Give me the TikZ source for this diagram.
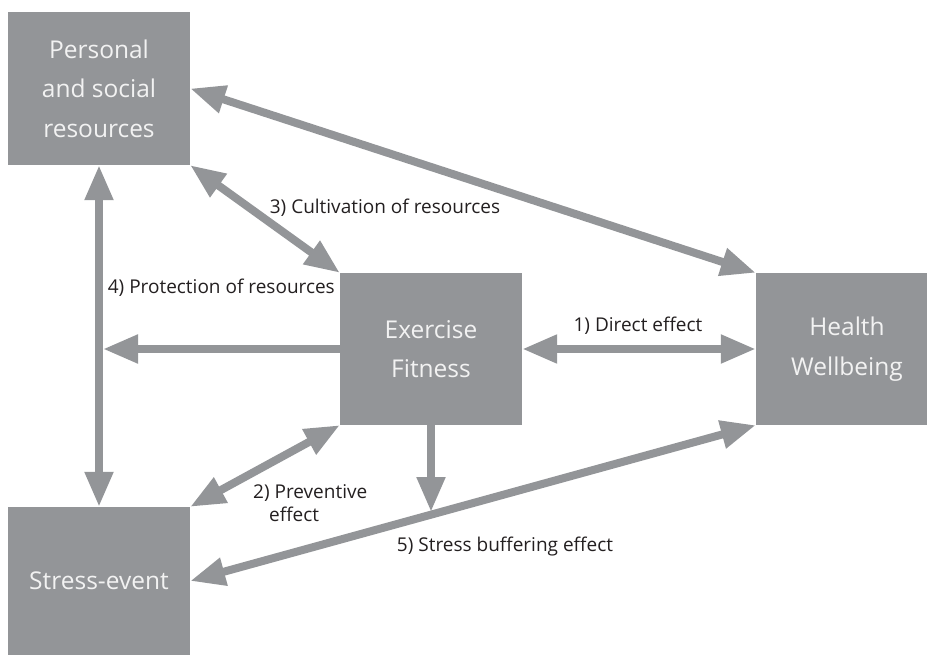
\documentclass[tikz,border=0pt]{standalone}
\usepackage{fontspec}
\setmainfont{Open Sans}
\usetikzlibrary{arrows.meta}
\definecolor{boxgray}{HTML}{939598}
\definecolor{boxtext}{HTML}{F2F2F2}
\definecolor{labeltext}{HTML}{231F20}
\tikzset{
  factor/.style={fill=boxgray, draw=none, text=boxtext, align=center,
    inner sep=0pt, font=\fontsize{24.5}{39.5}\selectfont},
  link/.style={draw=boxgray, line width=8pt,
    -{Triangle[length=35pt,width=27pt]}},
  biLink/.style={draw=boxgray, line width=8pt,
    {Triangle[length=35pt,width=27pt]}-{Triangle[length=35pt,width=27pt]}},
  lbl/.style={text=labeltext, font=\fontsize{19}{23}\selectfont, inner sep=0pt}
}
\begin{document}
\begin{tikzpicture}[x=1pt,y=-1pt]
\useasboundingbox (0,0) rectangle (927,655);
% boxes
\node[factor, minimum width=182pt, minimum height=153pt] (per) at (99,88.5)
  {Personal\\and social\\resources};
\node[factor, minimum width=182pt, minimum height=152pt] (ex) at (431,349)
  {Exercise\\Fitness};
\node[factor, minimum width=171pt, minimum height=152pt] (hw) at (841.5,349)
  {\hspace*{11pt}Health\\\hspace*{11pt}Wellbeing};
\node[factor, minimum width=182pt, minimum height=148pt] (se) at (99,581)
  {\raisebox{-4pt}{Stress-event}};
% free ends
\coordinate (vtip) at (103,349);
\coordinate (buf) at (431,512);
% connectors
\draw[biLink] (per.east) -- (hw.north west);
\draw[biLink] (per.south east) -- (ex.north west);
\draw[biLink] (per.south) -- (se.north);
\draw[link] (ex.west) -- (vtip);
\draw[biLink] (ex.east) -- (hw.west);
\draw[biLink] (ex.south west) -- (se.north east);
\draw[biLink] (hw.south west) -- (se.east);
\draw[link] (ex.south) -- (buf);
% labels
\node[lbl] (l3) at (385,208) {3) Cultivation of resources};
\node[lbl, anchor=east] (l4) at (335,288) {4) Protection of resources};
\node[lbl] (l1) at (638,326) {1) Direct effect};
\node[lbl, anchor=west, align=left] (l2) at (253,503) {2) Preventive\\\hspace*{16pt}effect};
\node[lbl] (l5) at (505,547) {5) Stress buffering effect};
\end{tikzpicture}
\end{document}
